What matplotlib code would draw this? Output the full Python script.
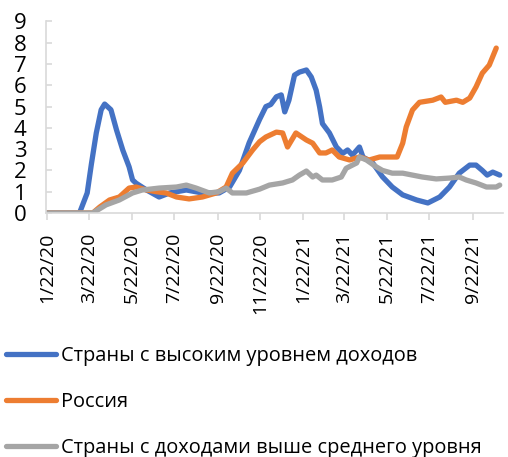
import matplotlib
matplotlib.use("Agg")
import matplotlib.pyplot as plt
import pandas as pd

plt.rcParams['font.family'] = ['Open Sans', 'DejaVu Sans']

start = pd.Timestamp('2020-01-22')

# Страны с высоким уровнем доходов (days since 1/22/20, value)
high_days = [0, 46, 57, 63, 70, 77, 82, 91, 99, 108, 117, 122, 127, 142, 160, 175,
             199, 222, 246, 261, 275, 289, 304, 313, 320, 328, 335, 340, 346, 354,
             361, 371, 378, 385, 390, 394, 404, 414, 423, 430, 437, 447, 452, 466,
             480, 494, 509, 529, 545, 562, 576, 590, 605, 614, 623, 630, 638, 648]
high_vals = [0, 0, 0.94, 2.3, 3.76, 4.85, 5.12, 4.85, 3.9, 2.95, 2.17, 1.55, 1.4,
             1.08, 0.75, 0.94, 1.08, 0.94, 0.94, 1.22, 2.0, 3.3, 4.4, 5.0, 5.1,
             5.46, 5.55, 4.75, 5.3, 6.48, 6.62, 6.72, 6.39, 5.77, 4.98, 4.2, 3.76,
             3.1, 2.8, 2.96, 2.72, 3.1, 2.63, 2.35, 1.7, 1.22, 0.85, 0.61, 0.47,
             0.75, 1.22, 1.87, 2.25, 2.25, 2.0, 1.78, 1.92, 1.78]

# Россия
rus_days = [0, 65, 75, 89, 103, 117, 127, 142, 156, 170, 185, 203, 222, 242, 256,
            265, 280, 294, 304, 313, 328, 337, 344, 356, 371, 380, 390, 399, 408,
            418, 433, 447, 461, 476, 490, 501, 509, 514, 523, 533, 552, 564, 570,
            586, 595, 605, 614, 623, 633, 643]
rus_vals = [0, 0, 0.28, 0.61, 0.75, 1.17, 1.22, 1.08, 1.0, 0.94, 0.75, 0.66, 0.75,
            0.94, 1.22, 1.87, 2.35, 2.96, 3.35, 3.57, 3.8, 3.76, 3.1, 3.76, 3.43,
            3.28, 2.82, 2.82, 2.96, 2.63, 2.49, 2.63, 2.49, 2.63, 2.63, 2.63, 3.28,
            4.04, 4.84, 5.2, 5.3, 5.45, 5.2, 5.3, 5.2, 5.4, 5.92, 6.57, 6.95, 7.75]

# Страны с доходами выше среднего уровня
umid_days = [0, 65, 84, 103, 122, 136, 160, 185, 199, 213, 232, 246, 256, 265, 285,
             304, 318, 337, 351, 361, 371, 380, 385, 394, 408, 421, 428, 443, 447,
             457, 471, 480, 494, 509, 523, 537, 557, 576, 590, 600, 614, 629, 643, 648]
umid_vals = [0, 0, 0.38, 0.61, 0.94, 1.08, 1.17, 1.22, 1.31, 1.17, 0.94, 1.0, 1.17,
             0.94, 0.94, 1.12, 1.31, 1.41, 1.55, 1.78, 1.97, 1.69, 1.78, 1.55, 1.55,
             1.69, 2.1, 2.35, 2.63, 2.49, 2.17, 2.0, 1.87, 1.87, 1.78, 1.69, 1.6,
             1.64, 1.69, 1.55, 1.41, 1.22, 1.22, 1.31]

labels = ['Страны с высоким уровнем доходов', 'Россия',
          'Страны с доходами выше среднего уровня']
colors = ['#4472C4', '#ED7D31', '#A5A5A5']

tick_labels = ['1/22/20', '3/22/20', '5/22/20', '7/22/20', '9/22/20', '11/22/20',
               '1/22/21', '3/22/21', '5/22/21', '7/22/21', '9/22/21']


def to_dates(days):
    return start + pd.to_timedelta(days, unit='D')


fig = plt.figure(figsize=(5.08, 4.57), dpi=100)
ax = fig.add_axes([0.0906, 0.534, 0.9, 0.419])

series = [(high_days, high_vals), (rus_days, rus_vals), (umid_days, umid_vals)]
for (d, v), lab, c in zip(series, labels, colors):
    ax.plot(to_dates(d), v, color=c, lw=3.8, label=lab, solid_capstyle='round',
            solid_joinstyle='round')

ax.set_ylim(0, 9)
ax.set_yticks(range(10))
ax.set_xlim(start - pd.Timedelta(days=2), start + pd.Timedelta(days=653))
ax.set_xticks(pd.to_datetime(tick_labels, format='%m/%d/%y'))
ax.set_xticklabels(tick_labels, rotation=90)

for s in ['top', 'right']:
    ax.spines[s].set_visible(False)
for s in ['left', 'bottom']:
    ax.spines[s].set_color('#D9D9D9')
    ax.spines[s].set_linewidth(1.2)
ax.tick_params(axis='y', direction='in', length=4.5, color='#D9D9D9', width=1.2,
               labelsize=16, pad=14)
ax.tick_params(axis='x', direction='out', length=5, color='#D9D9D9', width=1.2,
               labelsize=14, pad=9)

handles, labs = ax.get_legend_handles_labels()
fig.legend(handles, labs, loc='upper left', bbox_to_anchor=(0.0, 0.255),
           frameon=False, fontsize=14.4, handlelength=2.5, handletextpad=0.25,
           labelspacing=1.3, borderaxespad=0, borderpad=0.3)

fig.savefig('out.png', dpi=100)
